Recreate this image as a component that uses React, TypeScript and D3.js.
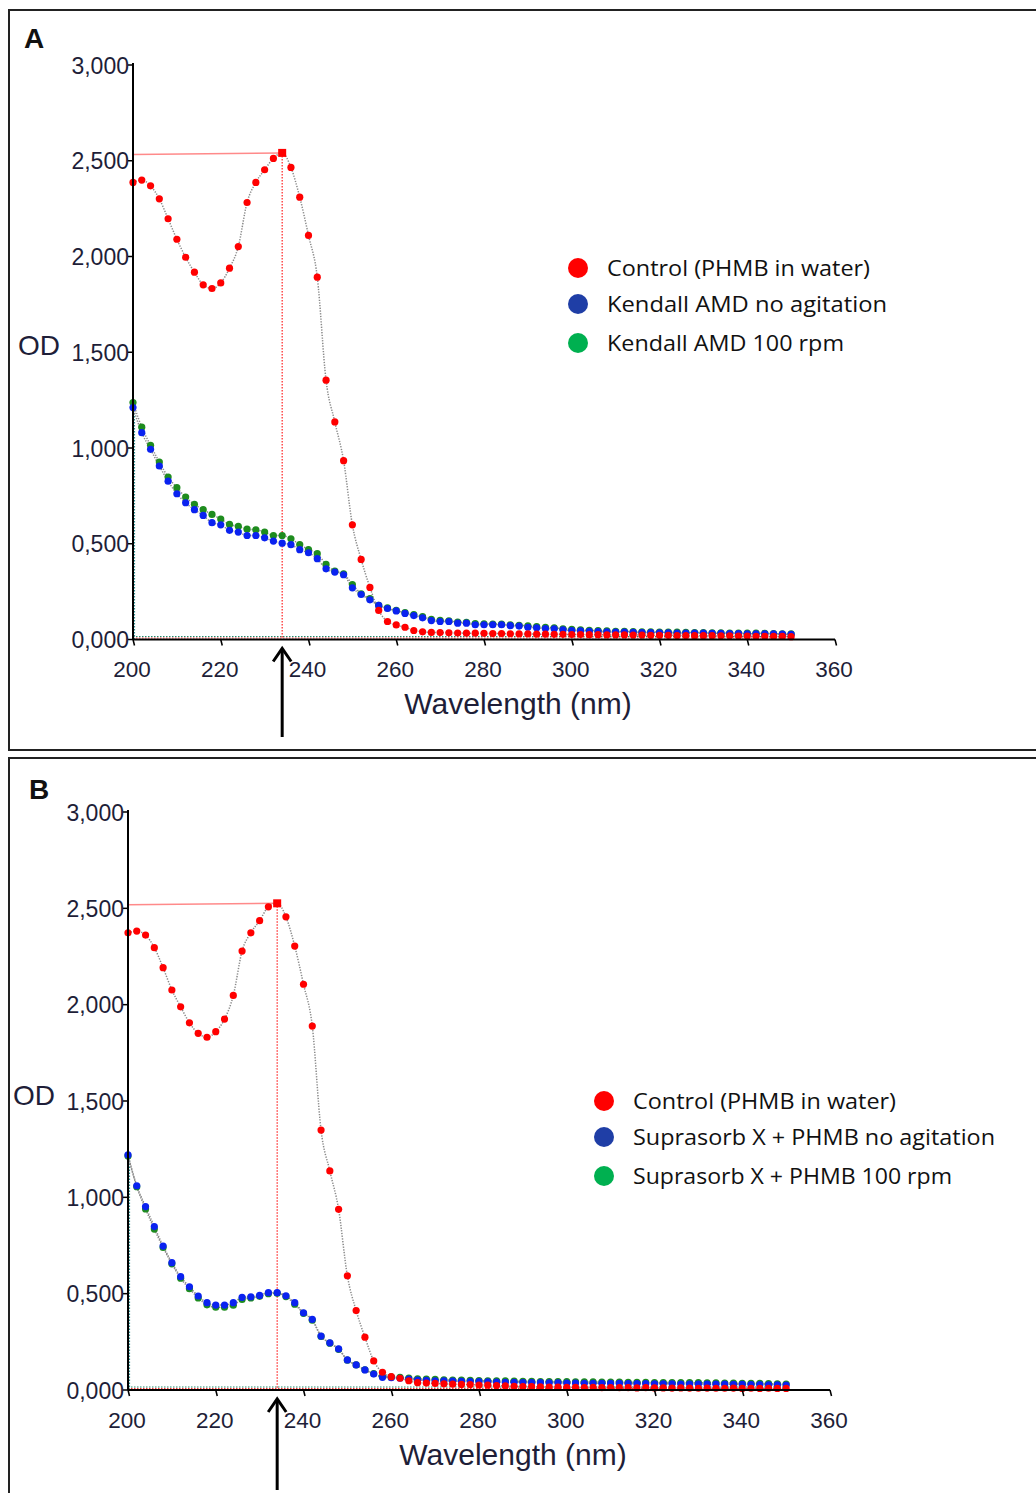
import React from "react";
import * as d3 from "d3";

const wavelengths = [200,202,204,206,208,210,212,214,216,218,220,222,224,226,228,230,232,234,236,238,240,242,244,246,248,250,252,254,256,258,260,262,264,266,268,270,272,274,276,278,280,282,284,286,288,290,292,294,296,298,300,302,304,306,308,310,312,314,316,318,320,322,324,326,328,330,332,334,336,338,340,342,344,346,348,350];

const xTicks = [200, 220, 240, 260, 280, 300, 320, 340, 360];
const yTicks = [0, 500, 1000, 1500, 2000, 2500, 3000];
const yTickLabels = ["0,000", "0,500", "1,000", "1,500", "2,000", "2,500", "3,000"];

// Panel A
const controlA = [2387,2399,2369,2301,2197,2090,1996,1918,1852,1833,1862,1939,2052,2282,2387,2453,2512,2541,2465,2310,2110,1892,1354,1136,934,599,418,272,152,94,76,64,47,40,
  37,36,35,34,33,33,32,31,31,30,29,29,28,28,27,27,26,26,25,25,24,24,24,23,23,22,22,22,21,21,20,20,20,19,19,18,18,17,17,16,16,15];
const kendallNoAgitation = [1211,1080,993,906,827,761,714,678,648,610,599,570,561,543,543,531,514,503,495,469,453,422,369,352,338,270,235,207,178,162,149,136,125,
  113,99,94,94,85,85,77,77,77,77,72,70,64,61,57,56,
  50,47,45,43,41,40,39,38,37,36,36,35,35,34,34,33,33,32,32,31,31,30,30,29,29,28,27];
const kendall100rpm = [1237,1109,1014,927,848,793,744,706,678,653,629,601,591,576,573,561,543,543,526,496,470,448,392,357,343,287,239,213,178,
  165,152,140,130,119,105,100,98,91,90,83,82,81,80,77,74,71,67,64,61,56,53,50,48,46,45,43,42,41,40,40,39,38,38,37,36,36,35,35,34,34,33,33,32,31,30,29];

// Panel B
const controlB = [2373,2382,2361,2296,2192,2076,1989,1906,1851,1831,1860,1925,2048,2278,2373,2436,2508,2526,2456,2304,2106,1889,1349,1137,938,593,412,274,151,92,69,61,48,
  38,36,34,32,30,29,28,26,25,23,21,19,18,17,16,15,15,14,14,13,14,12,13,12,12,11,12,11,11,10,11,10,9,10,9,9,10,8,9,8,9,8,8];
const suprasorbNoAgitation = [1220,1060,952,848,747,661,588,536,488,453,441,441,453,481,484,491,505,505,489,453,401,367,280,245,213,156,130,104,83,66,64,61,57,52,
  50,48,47,46,45,44,43,42,41,40,40,39,38,38,37,37,36,36,35,35,35,34,34,33,33,33,32,32,32,31,31,31,30,30,30,29,29,28,28,27,27,26];
const suprasorb100rpm = [1215,1055,940,835,740,655,580,526,478,442,430,430,440,470,478,486,500,502,485,445,398,362,278,243,211,155,130,105,85,70,68,66,62,58,
  56,55,53,52,51,50,49,48,47,47,46,45,45,44,44,43,43,42,42,42,41,41,41,40,40,40,39,39,39,38,38,38,37,37,36,36,35,35,34,33,32,31];

const peakWavelength = 234;
const legendA = ["Control (PHMB in water)", "Kendall AMD no agitation", "Kendall AMD 100 rpm"];
const legendB = ["Control (PHMB in water)", "Suprasorb X + PHMB no agitation", "Suprasorb X + PHMB 100 rpm"];

const MARK = { red: "#ff0000", blue: "#0a22f0", green: "#1e8c1e" };
const LEG = { red: "#ff0000", blue: "#1f3ea6", green: "#00b050" };
const TXT = "#1e1e38";

type PanelProps = {
  letter: string;
  top: number;
  x0: number; x1: number;
  y0: number; y1: number;
  control: number[]; noAg: number[]; rpm: number[];
  legend: string[];
  legendX: number; legendYs: number[]; legendWidths: number[];
  odX: number; odY: number;
  letterX: number; letterY: number;
  arrowBottom: number;
  xLabelY: number;
};

function Panel(p: PanelProps) {
  const x = d3.scaleLinear().domain([200, 360]).range([p.x0, p.x1]);
  const y = d3.scaleLinear().domain([0, 3000]).range([p.y0, p.y1]);
  const toPts = (vals: number[]) => wavelengths.slice(0, vals.length).map((w, i) => [w, vals[i]] as [number, number]);
  const line = d3.line<[number, number]>().x(d => x(d[0])).y(d => y(d[1])).curve(d3.curveMonotoneX);
  const series = [
    { vals: p.rpm, color: MARK.green },
    { vals: p.noAg, color: MARK.blue },
    { vals: p.control, color: MARK.red },
  ];
  const peakIdx = wavelengths.indexOf(peakWavelength);
  const peakVal = p.control[peakIdx];
  const px = x(peakWavelength), py = y(peakVal);
  const legColors = [LEG.red, LEG.blue, LEG.green];
  const ax = x(peakWavelength);
  return (
    <g>
      <rect x={9} y={p.top} width={1040} height={740} fill="none" stroke="#222" strokeWidth={2} />
      <text x={p.letterX} y={p.letterY} fontFamily="Liberation Sans, Arial, sans-serif" fontWeight="bold" fontSize={28} fill="#111">{p.letter}</text>

      {/* baseline drop lines */}
      <line x1={x(200)} x2={x(350)} y1={y(0) - 3} y2={y(0) - 3} stroke="#1e8c6e" strokeWidth={1.2} strokeDasharray="1.5 1.5" />
      <line x1={x(200)} x2={x(350)} y1={y(0) - 1.5} y2={y(0) - 1.5} stroke="#ff3030" strokeWidth={1.2} strokeDasharray="1.5 1.5" />
      <line x1={x(200) + 1.5} x2={x(200) + 1.5} y1={y(0)} y2={y(p.noAg[0])} stroke="#2a8a8a" strokeWidth={1.2} strokeDasharray="1.5 1.5" />

      {/* peak marker lines */}
      <line x1={x(200)} x2={px} y1={py + 1.5} y2={py} stroke="#ff8a8a" strokeWidth={1.5} />
      <line x1={px} x2={px} y1={py} y2={y(0)} stroke="#ff2020" strokeWidth={1.2} strokeDasharray="1.5 1.5" />

      {series.map((s, si) => (
        <path key={"l" + si} d={line(toPts(s.vals)) || ""} fill="none" stroke="#8a8a8a" strokeWidth={1.5} strokeDasharray="1.3 1.4" />
      ))}
      {series.map((s, si) => (
        <g key={"m" + si}>
          {toPts(s.vals).map((d, i) =>
            si === 2 && d[0] === peakWavelength ? (
              <rect key={i} x={x(d[0]) - 4} y={y(d[1]) - 4} width={8} height={8} fill={s.color} />
            ) : (
              <circle key={i} cx={x(d[0])} cy={y(d[1])} r={3.6} fill={s.color} />
            )
          )}
        </g>
      ))}

      {/* axes */}
      <line x1={x(200)} x2={x(200)} y1={y(0)} y2={y(3000) - 2} stroke="#000" strokeWidth={2} />
      <line x1={x(200)} x2={x(360)} y1={y(0)} y2={y(0)} stroke="#000" strokeWidth={2} />
      {yTicks.map((t, i) => (
        <g key={"y" + t}>
          <line x1={x(200) - 5} x2={x(200)} y1={y(t)} y2={y(t)} stroke="#000" strokeWidth={1.5} />
          <text x={x(200) - 4} y={y(t) + 8.5} textAnchor="end" fontFamily="Liberation Sans, Arial, sans-serif" fontSize={23} fill={TXT}>{yTickLabels[i]}</text>
        </g>
      ))}
      {xTicks.map(t => (
        <g key={"x" + t}>
          <line x1={x(t)} x2={x(t) + 1.5} y1={y(0)} y2={y(0) + 6} stroke="#000" strokeWidth={1.5} />
          <text x={x(t) - 1} y={p.xLabelY} textAnchor="middle" fontFamily="Liberation Sans, Arial, sans-serif" fontSize={22.5} fill={TXT}>{t}</text>
        </g>
      ))}
      <text x={(x(200) + x(360)) / 2 + 34} y={p.xLabelY + 37} textAnchor="middle" fontFamily="Liberation Sans, Arial, sans-serif" fontSize={30} fill={TXT}>Wavelength (nm)</text>
      <text x={p.odX} y={p.odY} fontFamily="Liberation Sans, Arial, sans-serif" fontSize={28} fill={TXT}>OD</text>

      {/* arrow */}
      <line x1={ax} x2={ax} y1={p.arrowBottom} y2={y(0) + 10} stroke="#000" strokeWidth={3} />
      <path d={`M${ax - 9},${y(0) + 22} L${ax},${y(0) + 9} L${ax + 9},${y(0) + 22}`} fill="none" stroke="#000" strokeWidth={3} />

      {/* legend */}
      {p.legend.map((lab, i) => (
        <g key={"lg" + i}>
          <circle cx={p.legendX} cy={p.legendYs[i]} r={10} fill={legColors[i]} />
          <text x={p.legendX + 29} y={p.legendYs[i] + 8} fontFamily="Open Sans, sans-serif" fontSize={21} fill="#111"
            textLength={p.legendWidths[i]} lengthAdjust="spacingAndGlyphs">{lab}</text>
        </g>
      ))}
    </g>
  );
}

export default function App() {
  return (
    <svg width={1036} height={1493} style={{ position: "absolute", left: 0, top: 0, background: "#fff" }}>
      <rect x={0} y={0} width={1036} height={1493} fill="#fff" />
      <Panel letter="A" top={10} x0={133} x1={835} y0={639.5} y1={65}
        control={controlA} noAg={kendallNoAgitation} rpm={kendall100rpm}
        legend={legendA} legendX={578} legendYs={[268, 304, 343]} legendWidths={[263, 280, 237]}
        odX={18} odY={355} letterX={24} letterY={48} arrowBottom={737} xLabelY={677} />
      <Panel letter="B" top={758} x0={128} x1={830} y0={1390} y1={812}
        control={controlB} noAg={suprasorbNoAgitation} rpm={suprasorb100rpm}
        legend={legendB} legendX={604} legendYs={[1101, 1137, 1176]} legendWidths={[263, 362, 319]}
        odX={13} odY={1105} letterX={29} letterY={799} arrowBottom={1490} xLabelY={1428} />
    </svg>
  );
}
